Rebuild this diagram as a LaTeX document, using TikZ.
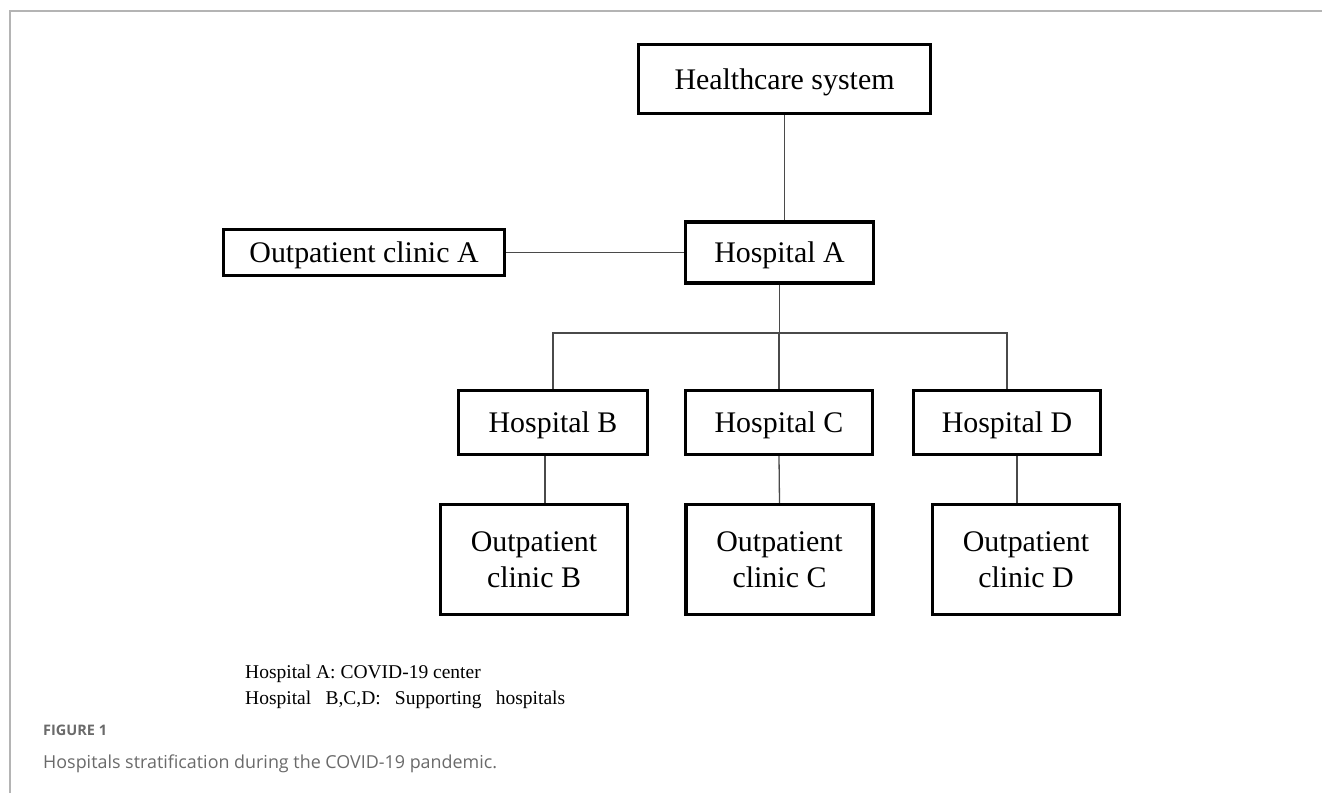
\documentclass[tikz,border=0pt]{standalone}
\usepackage{fontspec}
\setmainfont{Liberation Serif}
\newfontfamily\capfont{Open Sans}
\usetikzlibrary{positioning,calc}
\definecolor{framegray}{HTML}{B4B4B4}
\definecolor{capgray}{HTML}{6A6A6A}
\definecolor{linkgray}{HTML}{4A4A4A}
\tikzset{
  unit/.style    = {draw, rectangle, line width=3.4pt, inner sep=0pt,
                    font=\fontsize{29.9}{36}\selectfont, text height=20pt, text depth=0pt},
  clinic/.style  = {draw, rectangle, line width=3.4pt, inner sep=0pt, align=center,
                    minimum width=187pt, minimum height=110pt, font=\fontsize{29.9}{36}\selectfont},
  link/.style    = {draw=linkgray, line width=1.3pt},
  legend/.style  = {anchor=base west, inner sep=0pt, font=\fontsize{19.5}{22}\selectfont},
  caption/.style = {anchor=base west, inner sep=0pt, text=capgray}
}

\begin{document}
\begin{tikzpicture}[x=1pt, y=-1pt]
      \useasboundingbox (0,0) rectangle (1322,793);
      \draw[framegray, line width=2pt] (9.5,793) -- (9.5,11) -- (1322,11);

      \node[unit, minimum width=292pt, minimum height=69pt] (hs) at (784.5,79) {Healthcare system};
      \node[unit, minimum width=188pt, minimum height=61pt] (ha) at (779.5,252.5) {Hospital A};
      \node[unit, minimum width=281pt, minimum height=46pt] (oca) at (364,252.5) {Outpatient clinic A};
      \node[unit, minimum width=189pt, minimum height=64pt] (hb) at (553,422.5) {Hospital B};
      \node[unit, minimum width=187pt, minimum height=64pt] (hc) at (779,422.5) {Hospital C};
      \node[unit, minimum width=187pt, minimum height=64pt] (hd) at (1007,422.5) {Hospital D};
      \node[clinic] (ocb) at (534,559.5) {Outpatient\\clinic B};
      \node[clinic] (occ) at (779.5,559.5) {Outpatient\\clinic C};
      \node[clinic] (ocd) at (1026,559.5) {Outpatient\\clinic D};
      \coordinate (bus) at (779.5,333);

      \draw[link] (hs.south) -- (hs.south |- ha.north);
      \draw[link] (oca.east) -- (ha.west);
      \draw[link] (ha.south) -- (ha.south |- bus);
      \draw[link] (hb.north) |- (bus) -| (hd.north);
      \draw[link] (hc.north) -- (hc.north |- bus);
      \draw[link] ([xshift=11pt]ocb.north) -- ([xshift=11pt]ocb.north |- hb.south);
      \draw[link] (hc.south) -- (occ.north);
      \draw[link] ([xshift=-9pt]ocd.north) -- ([xshift=-9pt]ocd.north |- hd.south);

      \node[legend] (keya) at (245,678) {Hospital A: COVID-19 center};
      \node[legend] (keyb) at (245,704) {\makebox[320pt][s]{Hospital B,C,D: Supporting hospitals}};

      \node[caption, font=\capfont\bfseries\fontsize{14.5}{16}\selectfont] (fig) at (43,735) {FIGURE 1};
      \node[caption, font=\capfont\fontsize{17.9}{20}\selectfont] (cap) at (43,768)
        {Hospitals stratification during the COVID-19 pandemic.};
    \end{tikzpicture}
\end{document}
